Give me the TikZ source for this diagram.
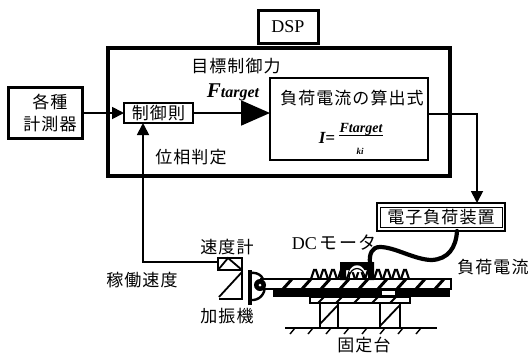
\documentclass[tikz,border=0pt]{standalone}
\usepackage{fontspec}
\setmainfont{Liberation Serif}
\newfontfamily\jpfont[LetterSpace=6]{Noto Sans CJK JP}
\usetikzlibrary{positioning,arrows.meta,calc}
\tikzset{
  flow/.style={-{Triangle[length=12pt,width=12pt]},line width=1.8pt,draw=black},
  bigflow/.style={-{Triangle[length=29pt,width=25pt]},line width=1.8pt,draw=black},
  box/.style={draw=black,fill=white,line width=1.8pt,outer sep=0pt,inner sep=0pt,align=center},
  strongbox/.style={box,line width=3pt},
  jplabel/.style={inner sep=0pt,font=\jpfont\fontsize{17}{18}\selectfont},
  rail/.style={draw=black,fill=white,line width=2pt},
  hatch/.style={draw=black,line width=1.8pt},
  cable/.style={draw=black,line width=4.2pt,line cap=round}
}
\begin{document}
\begin{tikzpicture}[x=1pt,y=-1pt]
  \useasboundingbox (0,0) rectangle (530,357);
  % boxes
  \node[box,line width=4pt,minimum width=342pt,minimum height=128pt] (dsp) at (279,112) {};
  \node[strongbox,minimum width=60pt,minimum height=33pt,font=\fontsize{18}{18}\selectfont] (dsplabel) at (288,26.5) {DSP};
  \node[box,line width=2pt,minimum width=69pt,minimum height=20pt,font=\jpfont\fontsize{17}{18}\selectfont] (law) at (158.5,113) {制御則};
  \node[strongbox,left=42pt of law,minimum width=74pt,minimum height=51pt,font=\jpfont\fontsize{17}{22}\selectfont] (sensors) {\hspace*{10pt}各種\\\hspace*{10pt}計測器};
  \node[box,right=77pt of law,yshift=-6pt,minimum width=158pt,minimum height=82pt] (formula) {};
  \node[box,minimum width=128pt,minimum height=28pt] (load) at (441,217) {};
  \node[box,line width=1pt,minimum width=122pt,minimum height=20pt,font=\jpfont\fontsize{17}{18}\selectfont] (loadtext) at (441,217) {電子負荷装置};
  \node[box,minimum width=24pt,minimum height=12pt] (speed) at (230,264) {};
  \coordinate (lawin) at (143,123);
  \coordinate (speedout) at (218,262);
  \coordinate (formulaout) at (428,114);
  \coordinate (loadin) at (477,203);
  \coordinate (cablein) at (457,231);
  \coordinate (motortop) at (370,263);
  % labels
  \node[jplabel] (goal) at (236,66) {目標制御力};
  \node[inner sep=0pt,font=\itshape\bfseries\fontsize{14}{16}\selectfont] (ftarget) at (233,92) {\fontsize{21}{18}\selectfont F\fontsize{16}{16}\selectfont target};
  \node[jplabel] (phase) at (191,157) {位相判定};
  \node[jplabel] (formulatitle) at (352,98) {負荷電流の算出式};
  \node[inner sep=0pt,font=\itshape\bfseries\fontsize{17}{16}\selectfont] (current) at (327,138) {I=};
  \node[inner sep=0pt,font=\itshape\bfseries\fontsize{14}{12}\selectfont] (numer) at (361,129) {Ftarget};
  \node[inner sep=0pt,font=\itshape\bfseries\fontsize{9}{8}\selectfont] (denom) at (360,151) {ki};
  \draw[line width=1.2pt] (numer.south west) -- (numer.south east);
  \node[jplabel] (speedlabel) at (227,247) {速度計};
  \node[jplabel] (velocity) at (142,280) {稼働速度};
  \node[jplabel] (shaker) at (227,316) {加振機};
  \node[jplabel,font=\fontsize{18}{18}\selectfont] (motorlabel) at (334,243) {DC\,{\jpfont モータ}};
  \node[jplabel] (current2) at (493,267) {負荷電流};
  \node[jplabel] (base) at (364,345) {固定台};
  % connectors
  \draw[flow] (sensors.east) -- (law.west);
  \draw[bigflow] (law.east) -- (formula.west |- law.east);
  \draw[flow] (speedout) -| (lawin);
  \draw[flow] (formulaout) -| (loadin);
  \draw[cable] (cablein) .. controls (456,248) and (448,259) .. (432,260)
    .. controls (415,260) and (395,247) .. (380,247)
    .. controls (372,247) and (369,254) .. (motortop);
  % speed meter and shaker
  \draw[hatch] (speed.south west) -- ($(speed.north)+(-2,0)$) -- (speed.south east);
  \draw[hatch] (242,270) -- (242,299) -- (219,299) (242,272) -- (219,297);
  \draw[line width=4pt] (250,270) -- (250,305);
  \draw[line width=2.4pt] (250,273) .. controls (270,270) and (270,302) .. (250,300);
  % rail
  \draw[rail] (261,279) rectangle (451,289);
  \foreach \x in {283,302,...,437} \draw[line width=3pt] (\x,289) -- (\x+9,279);
  \fill (273,288) rectangle (450,297);
  \fill[white] (382,291) rectangle (395,295);
  \fill (260,285) circle (6pt);
  \fill[white] (260,285) circle (1.5pt);
  % table
  \draw[rail] (310,297) rectangle (410,303);
  \foreach \x in {318,336,...,400} \draw[line width=2pt] (\x,303) -- (\x+6,297);
  % teeth and motor
  \foreach \x in {315,324,...,405} \draw[line width=2.2pt] (\x-4,279) -- (\x-1,270) -- (\x+1,270) -- (\x+4,279);
  \fill (340,262) -- (374,262) -- (374,280) -- (368,280) -- (368,270) -- (346,270) -- (346,280) -- (340,280) -- cycle;
  \fill[white] (349,272) .. controls (352,263) and (362,263) .. (365,272) -- cycle;
  \draw[line width=1.2pt] (349,279) .. controls (349,265) and (365,265) .. (365,279);
  % supports and ground
  \draw[hatch,fill=white] (320,303) rectangle (338,328);
  \draw[hatch,fill=white] (380,303) rectangle (400,328);
  \draw[hatch] (320,324) -- (338,305) (380,326) -- (400,305);
  \draw[line width=1.8pt] (285,328) -- (437,328);
  \foreach \x in {295,313,...,435} \draw[line width=1.4pt] (\x,328) -- (\x-5,334);
\end{tikzpicture}
\end{document}
